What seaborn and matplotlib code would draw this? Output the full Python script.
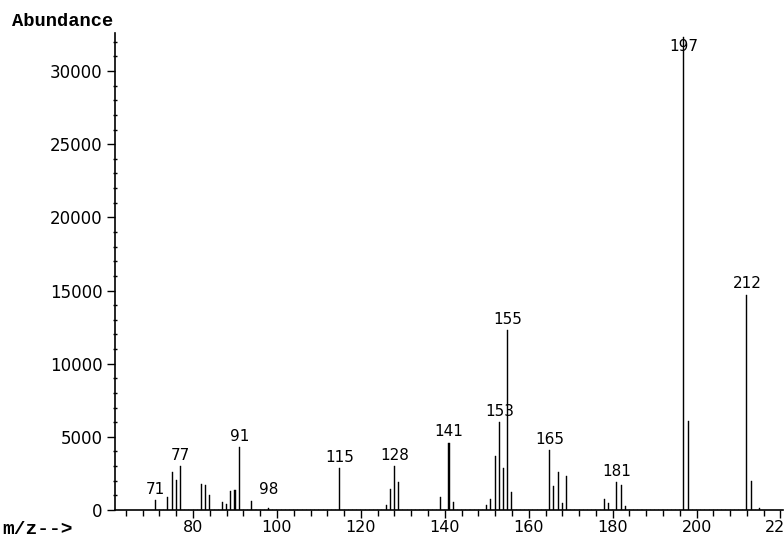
import matplotlib
matplotlib.use('Agg')
import matplotlib.pyplot as plt
import pandas as pd
import seaborn as sns
from matplotlib.ticker import MultipleLocator

# m/z values and abundances
mz = [71, 74, 75, 76, 77, 82, 83, 84, 87, 88, 89, 90, 91, 94, 98,
      115, 126, 127, 128, 129, 139, 141, 142,
      150, 151, 152, 153, 154, 155, 156,
      165, 166, 167, 168, 169, 178, 179, 181, 182, 183,
      197, 198, 212, 213, 215]
abundance = [650, 900, 2600, 2050, 3000, 1800, 1700, 1000, 570, 420, 1300, 1400, 4300, 620, 150,
             2850, 340, 1410, 3000, 1890, 900, 4600, 570,
             340, 730, 3700, 6000, 2900, 12300, 1250,
             4100, 1640, 2580, 460, 2350, 730, 460, 1900, 1710, 300,
             32300, 6100, 14700, 2000, 150]
labeled = [71, 77, 91, 98, 115, 128, 141, 153, 155, 165, 181, 197, 212]

df = pd.DataFrame({'mz': mz, 'abundance': abundance})

sns.set_style('ticks')
plt.rcParams['font.family'] = ['DejaVu Sans']
plt.rcParams['text.color'] = 'black'
plt.rcParams['xtick.color'] = 'black'
plt.rcParams['ytick.color'] = 'black'
plt.rcParams['axes.edgecolor'] = 'black'

fig = plt.figure(figsize=(7.84, 5.39), dpi=100)
ax = fig.add_axes([115 / 784, 29 / 539, 668 / 784, 477 / 539])

# stick spectrum as very narrow discrete histogram bars
sns.histplot(data=df, x='mz', weights='abundance', discrete=True, shrink=0.25,
             color='black', edgecolor='black', linewidth=0.3, alpha=1, ax=ax)

# peak labels
height = dict(zip(mz, abundance))
for m in labeled:
    y = min(max(height[m], 650) + 750, 31700)
    ax.text(m, y, str(m), ha='center', va='center', fontsize=11, color='black')

ax.set_xlim(61.4, 220.6)
ax.set_ylim(0, 32600)
ax.set_xlabel('')
ax.set_ylabel('')

ax.xaxis.set_major_locator(MultipleLocator(20))
ax.xaxis.set_minor_locator(MultipleLocator(4))
ax.yaxis.set_major_locator(MultipleLocator(5000))
ax.yaxis.set_minor_locator(MultipleLocator(1000))

ax.tick_params(axis='x', which='major', direction='out', length=6, width=1, labelsize=11.5, pad=1.5)
ax.tick_params(axis='x', which='minor', direction='out', length=4, width=1)
ax.tick_params(axis='y', which='major', direction='out', length=6, width=1, labelsize=12, pad=3)
ax.tick_params(axis='y', which='minor', direction='inout', length=3, width=1)

sns.despine(ax=ax)
for s in ['left', 'bottom']:
    ax.spines[s].set_linewidth(1.2)

fig.text(12 / 784, 1 - 21 / 539, 'Abundance', ha='left', va='center',
         fontsize=13.5, fontweight='bold', family='Liberation Mono')
fig.text(2 / 784, 1 - 529 / 539, 'm/z-->', ha='left', va='center',
         fontsize=14, fontweight='bold', family='Liberation Mono')

plt.savefig('out.png', dpi=100)
